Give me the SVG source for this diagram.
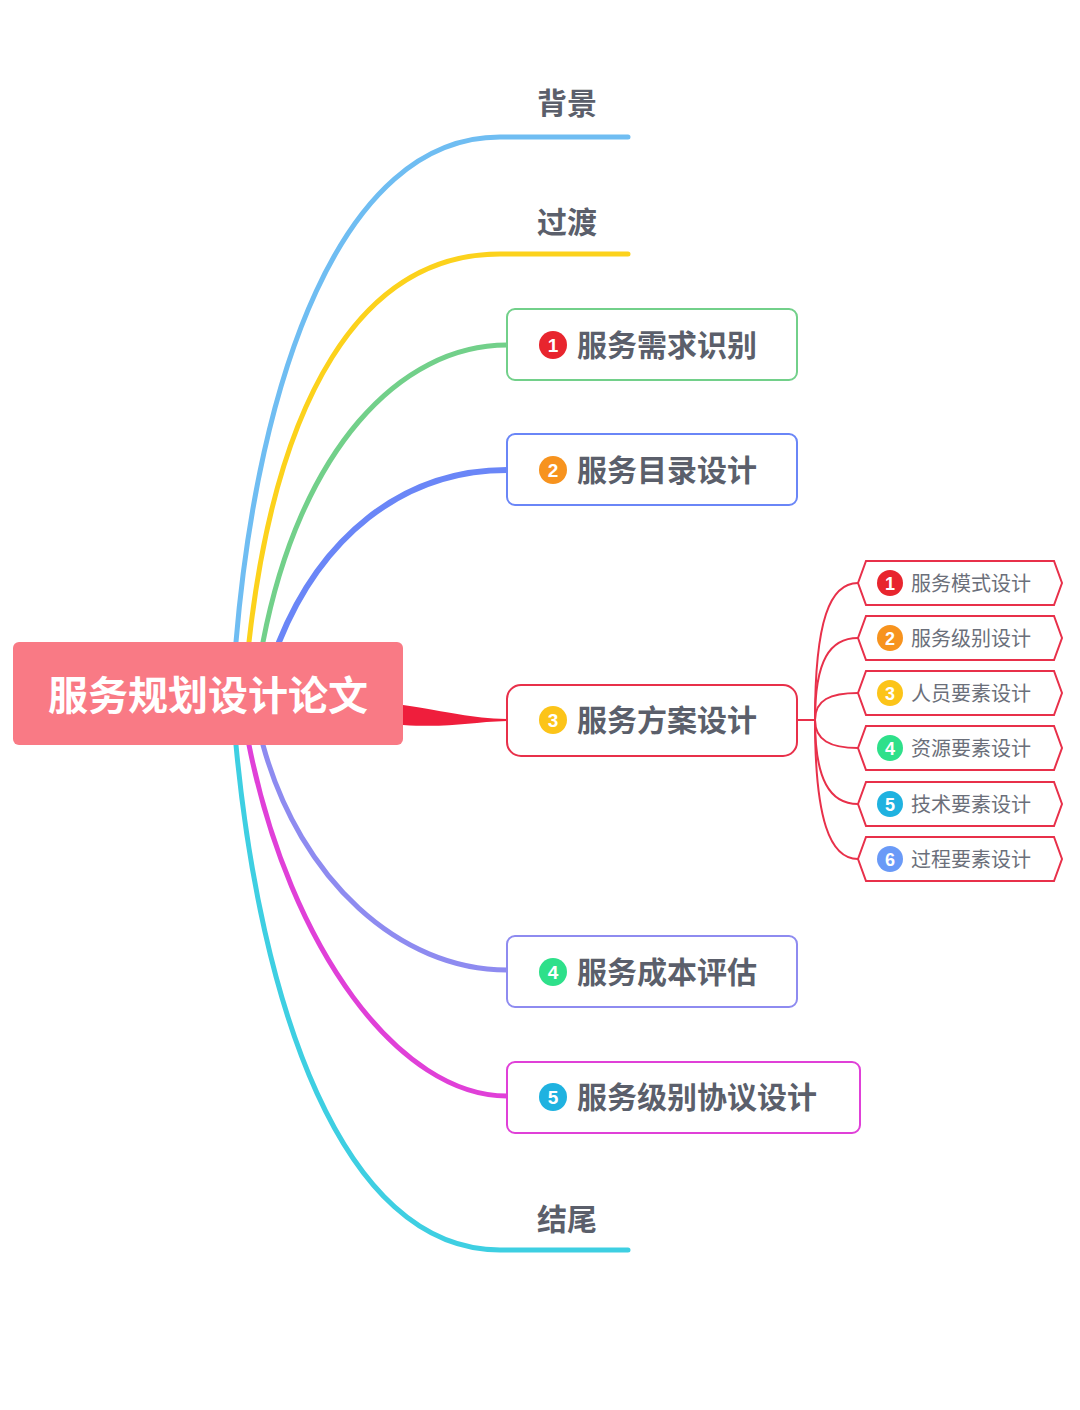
<svg xmlns="http://www.w3.org/2000/svg" width="1080" height="1410" viewBox="0 0 1080 1410">
<style>
.t{font-family:"Noto Sans CJK SC","Liberation Sans",sans-serif;fill:#5b5f6b}
.b{font-weight:bold;font-size:30px}
.s{font-size:20px;fill:#6b6f7a}
.n{font-family:"Liberation Sans",sans-serif;font-weight:bold;fill:#fff;text-anchor:middle}
.c{fill:none;stroke-linecap:round}
.box{fill:#fff;stroke-width:2}
.hex{fill:#fff;stroke:#e8304a;stroke-width:2}
</style>
<rect width="1080" height="1410" fill="#fff"/>
<g id="connectors">
<path class="c" d="M236,642 C258,380 340,137 500,137 L628,137" stroke="#6fbdf2" stroke-width="5"/>
<path class="c" d="M249,642 C276,400 360,254 500,254 L628,254" stroke="#fcd21c" stroke-width="5"/>
<path class="c" d="M263,642 C300,450 400,345 507,345" stroke="#72d08a" stroke-width="5"/>
<path class="c" d="M279,642 C320,540 400,470 507,470" stroke="#6a86f7" stroke-width="6"/>
<path d="M403,705 C450,712 470,718 507,719 L507,721 C470,722 450,728 403,725 Z" fill="#ef1e3c"/>
<path class="c" d="M263,745 C300,880 400,970 507,970" stroke="#8e8bf0" stroke-width="5"/>
<path class="c" d="M249,745 C290,950 400,1096 507,1096" stroke="#e040d8" stroke-width="5"/>
<path class="c" d="M236,745 C260,1000 340,1250 500,1250 L628,1250" stroke="#3ecfe2" stroke-width="5"/>
<g stroke="#e8304a" stroke-width="2" fill="none">
<path d="M797,720 L815,720"/>
<path d="M815,720 C815,620 830,583 858,583"/>
<path d="M815,720 C815,660 830,638 858,638"/>
<path d="M815,720 C815,700 830,693 858,693"/>
<path d="M815,720 C815,740 830,748 858,748"/>
<path d="M815,720 C815,780 830,804 858,804"/>
<path d="M815,720 C815,820 830,859 858,859"/>
</g>
</g>
<g id="root"><rect x="13" y="642" width="390" height="103" rx="6" fill="#f97a85"/><text x="208" y="710" text-anchor="middle" class="t" style="fill:#fff;font-weight:bold;font-size:40px">服务规划设计论文</text></g>
<g id="n-bg"><text x="567" y="114" text-anchor="middle" class="t b">背景</text></g>
<g id="n-gd"><text x="567" y="233" text-anchor="middle" class="t b">过渡</text></g>
<g id="n-1"><rect class="box" x="507" y="309" width="290" height="71" rx="8" stroke="#72d08a"/><circle cx="553" cy="345" r="14" fill="#e8252e"/><text class="n" x="553" y="352" font-size="19">1</text><text class="t b" x="577" y="356">服务需求识别</text></g>
<g id="n-2"><rect class="box" x="507" y="434" width="290" height="71" rx="8" stroke="#6a86f7"/><circle cx="553" cy="470" r="14" fill="#f7931e"/><text class="n" x="553" y="477" font-size="19">2</text><text class="t b" x="577" y="481">服务目录设计</text></g>
<g id="n-3"><rect class="box" x="507" y="685" width="290" height="71" rx="14" stroke="#e8304a"/><circle cx="553" cy="720" r="14" fill="#fcc419"/><text class="n" x="553" y="727" font-size="19">3</text><text class="t b" x="577" y="731">服务方案设计</text></g>
<g id="n-4"><rect class="box" x="507" y="936" width="290" height="71" rx="8" stroke="#8e8bf0"/><circle cx="553" cy="972" r="14" fill="#2ee08a"/><text class="n" x="553" y="979" font-size="19">4</text><text class="t b" x="577" y="983">服务成本评估</text></g>
<g id="n-5"><rect class="box" x="507" y="1062" width="353" height="71" rx="8" stroke="#e040d8"/><circle cx="553" cy="1097" r="14" fill="#1fb2e0"/><text class="n" x="553" y="1104" font-size="19">5</text><text class="t b" x="577" y="1108">服务级别协议设计</text></g>
<g id="n-end"><text x="567" y="1230" text-anchor="middle" class="t b">结尾</text></g>
<g id="s1"><path class="hex" d="M858,583 L866,561 L1054,561 L1062,583 L1054,605 L866,605 Z"/><circle cx="890" cy="583" r="13" fill="#e8252e"/><text class="n" x="890" y="590" font-size="18">1</text><text class="t s" x="911" y="591">服务模式设计</text></g>
<g id="s2"><path class="hex" d="M858,638 L866,616 L1054,616 L1062,638 L1054,660 L866,660 Z"/><circle cx="890" cy="638" r="13" fill="#f7931e"/><text class="n" x="890" y="645" font-size="18">2</text><text class="t s" x="911" y="646">服务级别设计</text></g>
<g id="s3"><path class="hex" d="M858,693 L866,671 L1054,671 L1062,693 L1054,715 L866,715 Z"/><circle cx="890" cy="693" r="13" fill="#fcc419"/><text class="n" x="890" y="700" font-size="18">3</text><text class="t s" x="911" y="701">人员要素设计</text></g>
<g id="s4"><path class="hex" d="M858,748 L866,726 L1054,726 L1062,748 L1054,770 L866,770 Z"/><circle cx="890" cy="748" r="13" fill="#2ee08a"/><text class="n" x="890" y="755" font-size="18">4</text><text class="t s" x="911" y="756">资源要素设计</text></g>
<g id="s5"><path class="hex" d="M858,804 L866,782 L1054,782 L1062,804 L1054,826 L866,826 Z"/><circle cx="890" cy="804" r="13" fill="#1fb2e0"/><text class="n" x="890" y="811" font-size="18">5</text><text class="t s" x="911" y="812">技术要素设计</text></g>
<g id="s6"><path class="hex" d="M858,859 L866,837 L1054,837 L1062,859 L1054,881 L866,881 Z"/><circle cx="890" cy="859" r="13" fill="#6a9af7"/><text class="n" x="890" y="866" font-size="18">6</text><text class="t s" x="911" y="867">过程要素设计</text></g>
</svg>
